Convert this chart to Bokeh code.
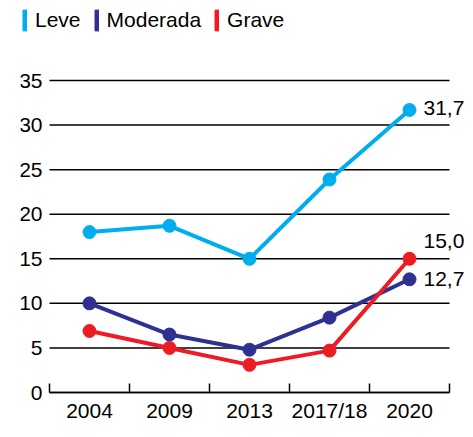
import numpy as np
from bokeh.plotting import figure
from bokeh.models import FixedTicker, Range1d, Legend, LegendItem, Label
from bokeh.embed import file_html
from bokeh.resources import INLINE

years = ["2004", "2009", "2013", "2017/18", "2020"]
leve = [18.0, 18.7, 15.0, 23.9, 31.7]
moderada = [10.0, 6.5, 4.8, 8.4, 12.7]
grave = [6.9, 5.0, 3.1, 4.7, 15.0]
series_names = ["Leve", "Moderada", "Grave"]
y_ticks = [0, 5, 10, 15, 20, 25, 30, 35]

colors = ["#00AEEF", "#2E3192", "#ED1C24"]
FONT = "Liberation Sans"
FS = "21px"
xs = list(range(len(years)))
x_lo, x_hi = -0.5, len(years) - 0.5

p = figure(width=465, height=421, output_backend="svg", toolbar_location=None,
           x_range=Range1d(x_lo - 0.3625, x_hi + 0.2), y_range=Range1d(-3.253, 43.98),
           min_border_left=20, min_border_right=0, min_border_top=0,
           min_border_bottom=0)
p.outline_line_color = None
p.xgrid.grid_line_color = None
p.ygrid.grid_line_color = None

# horizontal grid lines spanning the category area only
p.segment(x0=[x_lo] * len(y_ticks), x1=[x_hi] * len(y_ticks), y0=y_ticks, y1=y_ticks,
          line_color="black", line_width=1.5)

xa = p.xaxis[0]
xa.fixed_location = 0
xa.bounds = (x_lo, x_hi)
xa.ticker = FixedTicker(ticks=xs, minor_ticks=[i - 0.5 for i in range(len(years) + 1)])
xa.major_label_overrides = {i: y for i, y in enumerate(years)}
xa.major_tick_line_color = None
xa.major_tick_in = 0
xa.major_tick_out = 0
xa.minor_tick_in = 9
xa.minor_tick_out = 0
xa.minor_tick_line_color = "black"
xa.minor_tick_line_width = 1.5
xa.axis_line_color = "black"
xa.axis_line_width = 1.5
xa.major_label_standoff = 6
xa.major_label_text_font = FONT
xa.major_label_text_font_size = FS
xa.major_label_text_color = "black"

ya = p.yaxis[0]
ya.fixed_location = x_lo
ya.ticker = FixedTicker(ticks=y_ticks)
ya.axis_line_color = None
ya.major_tick_line_color = None
ya.minor_tick_line_color = None
ya.major_tick_in = 0
ya.major_tick_out = 0
ya.major_label_standoff = 7
ya.major_label_text_font = FONT
ya.major_label_text_font_size = FS
ya.major_label_text_color = "black"

items = []
label_offsets = [(14, 2), (14, 0), (14, 18)]
nan1 = np.array([np.nan])
for name, vals, c, (dx, dy) in zip(series_names, [leve, moderada, grave], colors, label_offsets):
    p.line(xs, vals, line_width=4, color=c)
    p.scatter(xs, vals, size=13, color=c)
    # legend swatch only (no visible mark in the plot)
    swatch = p.quad(left=nan1, right=nan1, top=nan1, bottom=nan1, fill_color=c, line_color=c)
    items.append(LegendItem(label=name, renderers=[swatch]))
    p.add_layout(Label(x=xs[-1], y=vals[-1], text=f"{vals[-1]:.1f}".replace(".", ","),
                       x_offset=dx, y_offset=dy, text_baseline="middle",
                       text_font=FONT, text_font_size=FS, text_color="black"))

legend = Legend(items=items, orientation="horizontal", location=(2, 388),
                glyph_width=5, glyph_height=26, label_height=26, label_standoff=8,
                spacing=13, padding=0, margin=0, border_line_color=None,
                background_fill_alpha=0, label_text_font=FONT,
                label_text_font_size=FS, label_text_color="black")
p.add_layout(legend, "center")

open("out.html", "w").write(file_html(p, INLINE))
